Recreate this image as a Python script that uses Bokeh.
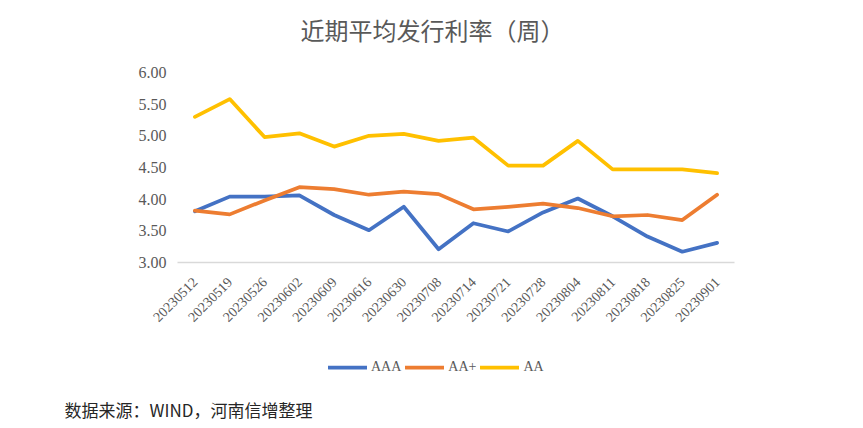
from math import pi
from bokeh.plotting import figure
from bokeh.layouts import column
from bokeh.models import (Range1d, FixedTicker, PrintfTickFormatter, Legend, LegendItem,
                          Title, ColumnDataSource)
from bokeh.embed import file_html
from bokeh.resources import INLINE

dates = ["20230512", "20230519", "20230526", "20230602", "20230609", "20230616",
         "20230630", "20230708", "20230714", "20230721", "20230728", "20230804",
         "20230811", "20230818", "20230825", "20230901"]
aaa = [3.81, 4.04, 4.04, 4.06, 3.75, 3.51, 3.88, 3.21, 3.62, 3.49, 3.79, 4.01,
       3.73, 3.41, 3.17, 3.31]
aa_plus = [3.82, 3.76, 3.98, 4.19, 4.16, 4.07, 4.12, 4.08, 3.84, 3.88, 3.93, 3.86,
           3.73, 3.75, 3.67, 4.07]
aa = [5.30, 5.58, 4.98, 5.04, 4.83, 5.00, 5.03, 4.92, 4.97, 4.53, 4.53, 4.92,
      4.47, 4.47, 4.47, 4.41]
series_names = ["AAA", "AA+", "AA"]
y_ticks = [3.0, 3.5, 4.0, 4.5, 5.0, 5.5, 6.0]
title_text = "近期平均发行利率（周）"
footer_text = "数据来源：WIND，河南信增整理"

colors = ["#4472C4", "#ED7D31", "#FFC000"]
cols = ["aaa", "aa_plus", "aa"]

# ---------------- main chart ----------------
p = figure(x_range=dates, y_range=Range1d(3, 6), width=863, height=340,
           output_backend="svg", toolbar_location=None,
           min_border_left=177, min_border_right=129, min_border_top=72,
           min_border_bottom=78)
p.outline_line_color = None
p.background_fill_color = "white"
p.border_fill_color = "white"
p.xgrid.grid_line_color = None
p.ygrid.grid_line_color = None

src = ColumnDataSource(dict(x=dates, aaa=aaa, aa_plus=aa_plus, aa=aa))
for col, c in zip(cols, colors):
    p.line("x", col, source=src, line_color=c, line_width=3.75,
           line_join="round", line_cap="round")

p.yaxis.ticker = FixedTicker(ticks=y_ticks)
p.yaxis.formatter = PrintfTickFormatter(format="%.2f")
p.yaxis.axis_line_color = None
p.yaxis.major_tick_line_color = None
p.yaxis.minor_tick_line_color = None
p.yaxis.major_tick_out = 0
p.yaxis.major_label_standoff = 11
p.yaxis.major_label_text_font = "Liberation Serif"
p.yaxis.major_label_text_font_size = "16px"
p.yaxis.major_label_text_color = "#595959"

p.xaxis.axis_line_color = "#D9D9D9"
p.xaxis.axis_line_width = 1.5
p.xaxis.major_tick_line_color = None
p.xaxis.minor_tick_line_color = None
p.xaxis.major_tick_out = 0
p.xaxis.major_label_orientation = pi / 4
p.xaxis.major_label_standoff = 17
p.xaxis.major_label_text_font = "Liberation Serif"
p.xaxis.major_label_text_font_size = "14px"
p.xaxis.major_label_text_color = "#595959"

spacer = Title(text=" ", text_font_size="1px", standoff=22)
p.add_layout(spacer, "above")
title = Title(text=title_text, align="left", offset=123, standoff=0,
              vertical_align="middle", text_font="Noto Sans CJK SC",
              text_font_size="24px", text_font_style="normal", text_color="#595959")
p.add_layout(title, "above")

# ---------------- legend + source strip ----------------
p2 = figure(frame_width=557, frame_height=47, x_range=Range1d(0, 1), y_range=Range1d(0, 1),
            x_axis_location=None, y_axis_location=None,
            min_border_left=177, min_border_right=129, min_border_top=0,
            min_border_bottom=0, output_backend="svg", toolbar_location=None)
p2.outline_line_color = None
p2.xgrid.visible = False
p2.ygrid.visible = False
p2.background_fill_color = "white"
p2.border_fill_color = "white"

legend_renderers = []
for c in colors:
    r = p2.line(x=[float("nan")], y=[float("nan")], line_color=c, line_width=3.75,
                line_cap="round")
    legend_renderers.append(r)

legend = Legend(items=[LegendItem(label=n, renderers=[r])
                       for n, r in zip(series_names, legend_renderers)],
                orientation="horizontal", location=(151, 10),
                border_line_color=None, background_fill_alpha=0,
                padding=0, margin=0, spacing=4, label_standoff=4,
                glyph_width=39, glyph_height=20, label_height=20,
                label_text_font="Liberation Serif", label_text_font_size="14px",
                label_text_color="#595959")
p2.add_layout(legend, "center")

footer = Title(text=footer_text, align="left", offset=-113, standoff=14,
               vertical_align="bottom", text_font="Noto Sans CJK SC",
               text_font_size="17px", text_font_style="normal", text_color="#262626")
p2.add_layout(footer, "below")

layout = column(p, p2, spacing=0)
open("out.html", "w").write(file_html(layout, INLINE))
